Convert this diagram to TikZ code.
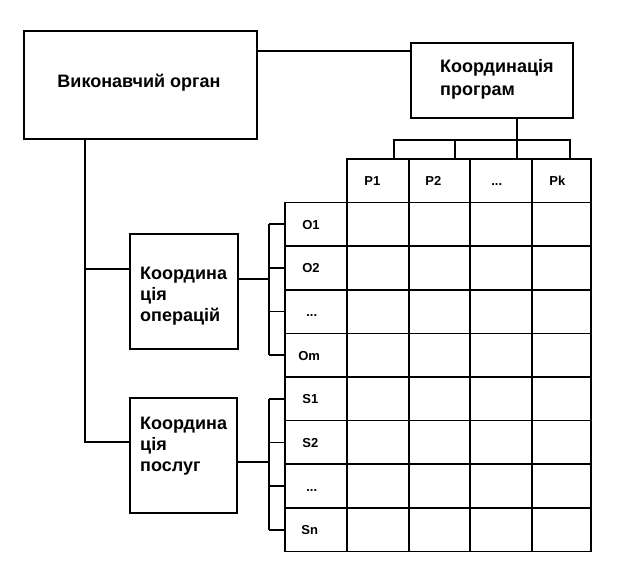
\documentclass[tikz,border=0pt]{standalone}
\usepackage{fontspec}
\setmainfont{Liberation Sans}
\usetikzlibrary{calc}
\begin{document}
\begin{tikzpicture}[x=1pt,y=-1pt,
  box/.style={draw, line width=2pt, inner sep=0pt},
  cell/.style={draw, line width=1.7pt, inner sep=0pt, minimum height=43.6pt},
  lbl/.style={font=\bfseries\fontsize{13}{15}\selectfont, anchor=base west, inner sep=0pt},
  big/.style={font=\bfseries\fontsize{18}{23}\selectfont, inner sep=0pt},
  conn/.style={line width=1.8pt}]
\useasboundingbox (0,0) rectangle (621,585);

% main boxes
\node[box, minimum width=233pt, minimum height=108pt] (exec) at (140.5,85) {};
\node[big] (exectext) at (139,83) {Виконавчий орган};
\node[box, minimum width=162pt, minimum height=75pt] (prog) at (492,80.5) {};
\node[big, anchor=west, align=left] (progtext) at (440,79.5) {Координація\\програм};
\node[box, minimum width=108pt, minimum height=115pt] (oper) at (184,291.5) {};
\node[big, anchor=west, align=left, font=\bfseries\fontsize{18}{21}\selectfont] (opertext) at (140,296) {Координа\\ція\\операцій};
\node[box, minimum width=107pt, minimum height=115pt] (posl) at (183.5,455.5) {};
\node[big, anchor=west, align=left, font=\bfseries\fontsize{18}{21}\selectfont] (posltext) at (140,446) {Координа\\ція\\послуг};

% table: header cells
\foreach \n/\x/\w in {P1/378/62, P2/439.5/61, P3/501/62, P4/561.5/59}
  \node[cell, minimum width=\w pt] (\n) at (\x,180.8) {};
% row label cells
\foreach \n/\i in {O1/1,O2/2,O3/3,O4/4,S1/5,S2/6,S3/7,S4/8}
  \node[cell, minimum width=62pt] (\n) at (316,{180.8+43.6*\i}) {};
% data cells
\foreach \i in {1,...,8}
  \foreach \j/\x/\w in {1/378/62, 2/439.5/61, 3/501/62, 4/561.5/59}
    \node[cell, minimum width=\w pt] (c-\i-\j) at (\x,{180.8+43.6*\i}) {};

% header labels
\node[lbl] at ($(P1.west)+(18,5)$) {P1};
\node[lbl] at ($(P2.west)+(17,5)$) {P2};
\node[lbl] at ($(P3.west)+(22,5)$) {...};
\node[lbl] at ($(P4.west)+(18,5)$) {Pk};
% row labels
\node[lbl] at ($(O1.west)+(18,5)$) {O1};
\node[lbl] at ($(O2.west)+(18,5)$) {O2};
\node[lbl] at ($(O3.west)+(22,5)$) {...};
\node[lbl] at ($(O4.west)+(14,5)$) {Om};
\node[lbl] at ($(S1.west)+(18,5)$) {S1};
\node[lbl] at ($(S2.west)+(18,5)$) {S2};
\node[lbl] at ($(S3.west)+(22,5)$) {...};
\node[lbl] at ($(S4.west)+(17,5)$) {Sn};

% connectors
\draw[conn] (exec.east |- 0,51) -- (prog.west |- 0,51);
\coordinate (pstem) at (517,140);
\draw[conn] (prog.south -| pstem) -- (pstem);
\coordinate (d1) at (394,140);
\coordinate (d2) at (455,140);
\coordinate (d4) at (570,140);
\draw[conn] (d1 |- P1.north) -- (d1) -- (d4) -- (d4 |- P4.north);
\draw[conn] (d2) -- (d2 |- P2.north);
\draw[conn] (pstem) -- (pstem |- P3.north);

\coordinate (t1) at (85,269);
\coordinate (t2) at (85,442);
\draw[conn] (exec.south -| t1) -- (t2) -- (t2 -| posl.west);
\draw[conn] (t1) -- (t1 -| oper.west);

\coordinate (bo) at (269,279);
\draw[conn] (oper.east |- bo) -- (bo);
\draw[conn] (O1.west -| bo) -- (O4.west -| bo);
\foreach \n in {O1,O2,O3,O4}
  \draw[conn] (\n.west -| bo) -- (\n.west);

\coordinate (bs) at (269,462);
\draw[conn] (posl.east |- bs) -- (bs);
\draw[conn] (S1.west -| bs) -- (S4.west -| bs);
\foreach \n in {S1,S2,S3,S4}
  \draw[conn] (\n.west -| bs) -- (\n.west);
\end{tikzpicture}
\end{document}
